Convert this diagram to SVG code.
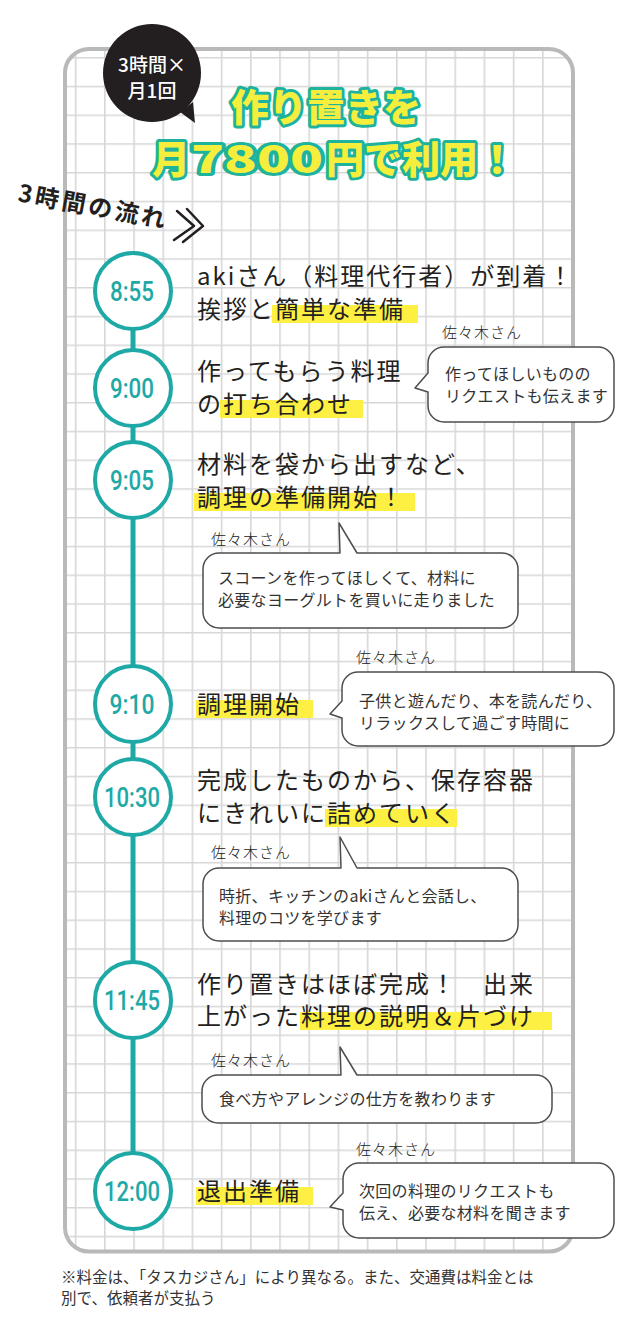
<svg xmlns="http://www.w3.org/2000/svg" width="630" height="1330" viewBox="0 0 630 1330">
<defs>
<pattern id="grid" x="74.8" y="57" width="29.2" height="28.75" patternUnits="userSpaceOnUse">
<rect width="29.2" height="28.75" fill="#fff"/>
<path d="M0.8 0V28.75M0 0.8H29.2" stroke="#d7d7d7" stroke-width="1.6" fill="none"/>
</pattern>
<style>
.jp{font-family:"Noto Sans CJK JP","Noto Sans CJK SC",sans-serif}
.main{font-family:"Noto Sans CJK JP",sans-serif;font-size:24px;font-weight:400;fill:#231f20;letter-spacing:2px}
.hl{fill:#fdf042}
.ring{fill:#fff;stroke:#1ea9a6;stroke-width:4}
.time{font-family:Roboto,"Liberation Sans",sans-serif;font-weight:500;font-size:28px;fill:#1ea9a6;text-anchor:middle}
.conn{stroke:#1ea9a6;stroke-width:5;fill:none}
.bub{fill:#fff;stroke:#4d4d4d;stroke-width:1.5;stroke-linejoin:round}
.btxt{font-family:"Noto Sans CJK JP",sans-serif;font-size:16px;fill:#333;letter-spacing:0.3px}
.who{font-family:"Noto Sans CJK JP",sans-serif;font-size:15px;font-weight:300;fill:#222;letter-spacing:1px}
.ttl{font-family:"Noto Sans CJK JP",sans-serif;font-size:38px;font-weight:900;fill:#f6ee3c;stroke:#1db39c;stroke-width:6;stroke-linejoin:round;paint-order:stroke fill}
.foot{font-family:"Noto Sans CJK JP",sans-serif;font-size:15.5px;fill:#333}
</style>
</defs>
<rect width="630" height="1330" fill="#fff"/>
<g id="panel">
<rect x="65" y="49" width="508" height="1202.5" rx="24" fill="url(#grid)" stroke="#b9b9b9" stroke-width="4"/>
</g>
<g id="badge">
<circle cx="152" cy="73" r="49" fill="#231f20"/>
<path d="M180 112 L195 123 L193 102 Z" fill="#231f20"/>
<text class="jp" x="152" y="71.5" font-size="19" font-weight="500" fill="#fff" text-anchor="middle">3時間×</text>
<text class="jp" x="152" y="97.5" font-size="19" font-weight="500" fill="#fff" text-anchor="middle">月1回</text>
</g>
<g id="title">
<text class="ttl" x="231" y="121">作り置きを</text>
<text class="ttl" y="173"><tspan x="152">月</tspan><tspan x="191" textLength="132" lengthAdjust="spacingAndGlyphs">7800</tspan><tspan x="326">円で利用！</tspan></text>
</g>
<g id="flow-label">
<text class="jp" x="17" y="201" transform="rotate(10.5 17 201)" font-size="24" font-weight="700" fill="#231f20" letter-spacing="3">3時間の流れ</text>
<polyline points="177,211 194,226 174,240" fill="none" stroke="#231f20" stroke-width="2.5" stroke-linecap="round" stroke-linejoin="round"/>
<polyline points="187,209 203,226 183,242" fill="none" stroke="#231f20" stroke-width="2.5" stroke-linecap="round" stroke-linejoin="round"/>
</g>
<g id="connectors">
<line class="conn" x1="133" y1="329" x2="133" y2="350"/>
<line class="conn" x1="133" y1="426" x2="133" y2="442"/>
<line class="conn" x1="133" y1="518" x2="133" y2="666"/>
<line class="conn" x1="133" y1="742" x2="133" y2="759"/>
<line class="conn" x1="133" y1="835" x2="133" y2="962"/>
<line class="conn" x1="133" y1="1038" x2="133" y2="1153"/>
</g>
<g id="n0855">
<circle class="ring" cx="133" cy="291" r="38"/>
<text class="time" x="132" y="301" textLength="44" lengthAdjust="spacingAndGlyphs">8:55</text>
<rect class="hl" x="272" y="305" width="146" height="18"/>
<text class="main" x="197" y="285">akiさん（料理代行者）が到着！</text>
<text class="main" x="197" y="318">挨拶と簡単な準備</text>
</g>
<g id="n0900">
<circle class="ring" cx="133" cy="388" r="38"/>
<text class="time" x="132" y="398" textLength="44" lengthAdjust="spacingAndGlyphs">9:00</text>
<rect class="hl" x="220" y="400" width="143" height="18"/>
<text class="main" x="197" y="380">作ってもらう料理</text>
<text class="main" x="197" y="413">の打ち合わせ</text>
</g>
<g id="c0900">
<path class="bub" d="M444 347 H598 A16 16 0 0 1 614 363 V406 A16 16 0 0 1 598 422 H444 A16 16 0 0 1 428 406 V392 L415 388 L428 373 V363 A16 16 0 0 1 444 347 Z"/>
<text class="who" x="442" y="338">佐々木さん</text>
<text class="btxt" x="445" y="380">作ってほしいものの</text>
<text class="btxt" x="445" y="402">リクエストも伝えます</text>
</g>
<g id="n0905">
<circle class="ring" cx="133" cy="480" r="38"/>
<text class="time" x="132" y="490" textLength="44" lengthAdjust="spacingAndGlyphs">9:05</text>
<rect class="hl" x="194" y="493" width="221" height="18"/>
<text class="main" x="197" y="473">材料を袋から出すなど、</text>
<text class="main" x="197" y="506">調理の準備開始！</text>
</g>
<g id="c0905">
<path class="bub" d="M219 553 H340 L339 523 L357 553 H502 A16 16 0 0 1 518 569 V612 A16 16 0 0 1 502 628 H219 A16 16 0 0 1 203 612 V569 A16 16 0 0 1 219 553 Z"/>
<text class="who" x="211" y="545">佐々木さん</text>
<text class="btxt" x="218" y="584">スコーンを作ってほしくて、材料に</text>
<text class="btxt" x="218" y="606">必要なヨーグルトを買いに走りました</text>
</g>
<g id="n0910">
<circle class="ring" cx="133" cy="704" r="38"/>
<text class="time" x="132" y="714" textLength="45" lengthAdjust="spacingAndGlyphs">9:10</text>
<rect class="hl" x="196" y="700" width="117" height="18"/>
<text class="main" x="197" y="713">調理開始</text>
</g>
<g id="c0910">
<path class="bub" d="M358 672 H598 A16 16 0 0 1 614 688 V730 A16 16 0 0 1 598 746 H358 A16 16 0 0 1 342 730 V718 L330 714 L342 701 V688 A16 16 0 0 1 358 672 Z"/>
<text class="who" x="356" y="663">佐々木さん</text>
<text class="btxt" x="359" y="707">子供と遊んだり、本を読んだり、</text>
<text class="btxt" x="359" y="729">リラックスして過ごす時間に</text>
</g>
<g id="n1030">
<circle class="ring" cx="133" cy="797" r="38"/>
<text class="time" x="132" y="807" textLength="56" lengthAdjust="spacingAndGlyphs">10:30</text>
<rect class="hl" x="325" y="809" width="132" height="18"/>
<text class="main" x="197" y="789">完成したものから、保存容器</text>
<text class="main" x="197" y="822">にきれいに詰めていく</text>
</g>
<g id="c1030">
<path class="bub" d="M219 868 H341 L340 837 L357 868 H502 A16 16 0 0 1 518 884 V925 A16 16 0 0 1 502 941 H219 A16 16 0 0 1 203 925 V884 A16 16 0 0 1 219 868 Z"/>
<text class="who" x="211" y="858">佐々木さん</text>
<text class="btxt" x="219" y="902">時折、キッチンのakiさんと会話し、</text>
<text class="btxt" x="219" y="924">料理のコツを学びます</text>
</g>
<g id="n1145">
<circle class="ring" cx="133" cy="1000" r="38"/>
<text class="time" x="132" y="1010" textLength="56" lengthAdjust="spacingAndGlyphs">11:45</text>
<rect class="hl" x="300" y="1012" width="252" height="18"/>
<text class="main" x="197" y="993">作り置きはほぼ完成！　出来</text>
<text class="main" x="197" y="1025">上がった料理の説明＆片づけ</text>
</g>
<g id="c1145">
<path class="bub" d="M218 1075 H341 L340 1047 L357 1075 H536 A16 16 0 0 1 552 1091 V1107 A16 16 0 0 1 536 1123 H218 A16 16 0 0 1 202 1107 V1091 A16 16 0 0 1 218 1075 Z"/>
<text class="who" x="211" y="1066">佐々木さん</text>
<text class="btxt" x="219" y="1105">食べ方やアレンジの仕方を教わります</text>
</g>
<g id="n1200">
<circle class="ring" cx="133" cy="1191" r="38"/>
<text class="time" x="132" y="1201" textLength="56" lengthAdjust="spacingAndGlyphs">12:00</text>
<rect class="hl" x="196" y="1187" width="117" height="18"/>
<text class="main" x="197" y="1200">退出準備</text>
</g>
<g id="c1200">
<path class="bub" d="M359 1163 H598 A16 16 0 0 1 614 1179 V1222 A16 16 0 0 1 598 1238 H359 A16 16 0 0 1 343 1222 V1210 L330 1207 L343 1193 V1179 A16 16 0 0 1 359 1163 Z"/>
<text class="who" x="356" y="1155">佐々木さん</text>
<text class="btxt" x="359" y="1197">次回の料理のリクエストも</text>
<text class="btxt" x="359" y="1219">伝え、必要な材料を聞きます</text>
</g>
<g id="footer">
<text class="foot" x="61" y="1283">※料金は、「タスカジさん」により異なる。また、交通費は料金とは</text>
<text class="foot" x="61" y="1304">別で、依頼者が支払う</text>
</g>
</svg>
